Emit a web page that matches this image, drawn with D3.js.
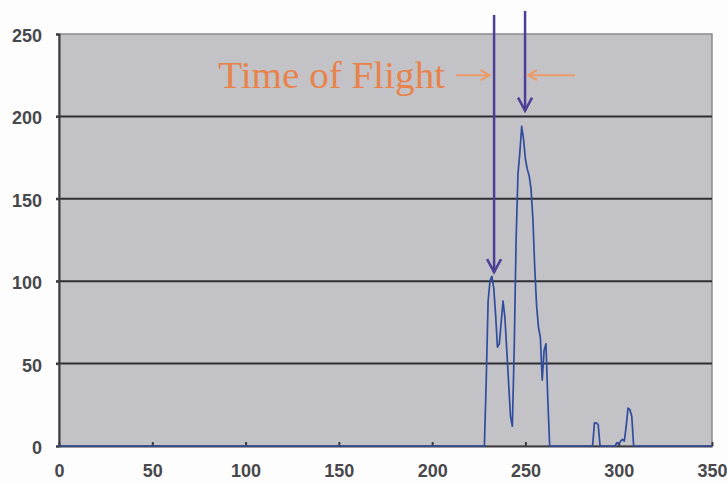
<!DOCTYPE html>
<html>
<head>
<meta charset="utf-8">
<script src="https://cdn.jsdelivr.net/npm/d3@7/dist/d3.min.js"></script>
<style>
  html, body { margin: 0; padding: 0; background: #fdfdfd; }
  svg { display: block; }
</style>
</head>
<body>
<svg id="chart" width="727" height="482"></svg>
<script>
// Time-of-flight bins and detector counts
const tofBins = [0, 228, 229, 230, 231, 232, 233, 234, 235, 236, 237, 238, 239, 240, 241, 242, 243, 244,
  245, 246, 247, 248, 249, 250, 251, 252, 253, 254, 255, 256, 257, 258, 259, 260, 261, 262, 263,
  286, 287, 288, 289, 290, 298, 299, 300, 301, 302, 303, 304, 305, 306, 307, 308, 350];
const counts = [0, 0, 40, 88, 100, 103, 96, 80, 60, 62, 75, 88, 78, 58, 38, 18, 12, 60,
  125, 165, 178, 194, 186, 174, 168, 164, 156, 138, 108, 85, 72, 66, 40, 58, 62, 28, 0,
  0, 14, 14, 13, 0, 0, 2, 1, 3, 4, 3, 12, 23, 22, 18, 0, 0];

// Axis ticks
const xTicks = [0, 50, 100, 150, 200, 250, 300, 350];
const yTicks = [0, 50, 100, 150, 200, 250];

// Annotation: arrows marking the two flight-time peaks (tof, top value, tip value)
const markerTof = [233.2, 249.8];
const markerTop = [261.5, 264];
const markerTip = [105.5, 203.5];
const annotationText = "Time of Flight";

const svg = d3.select("#chart");
const x = d3.scaleLinear().domain([0, 350]).range([59, 712]);
const y = d3.scaleLinear().domain([0, 250]).range([446, 34]);

// Plot area
svg.append("rect")
  .attr("x", x(0)).attr("y", y(250))
  .attr("width", x(350) - x(0)).attr("height", y(0) - y(250))
  .attr("fill", "#c2c2c7")
  .attr("stroke", "#8a8a90").attr("stroke-width", 1.5);

// Horizontal grid lines
svg.append("g")
  .selectAll("line")
  .data(yTicks.filter(d => d > 0 && d < 250))
  .join("line")
  .attr("x1", x(0) - 3).attr("x2", x(350))
  .attr("y1", d => y(d)).attr("y2", d => y(d))
  .attr("stroke", "#2e2e33").attr("stroke-width", 2);

// Y axis
const yAxis = d3.axisLeft(y).tickValues(yTicks).tickSize(3).tickPadding(14);
const gy = svg.append("g").attr("transform", `translate(${x(0)},0)`).call(yAxis);
gy.select(".domain").attr("stroke", "#3c3c40").attr("stroke-width", 2);
gy.selectAll(".tick line").attr("stroke", "#3c3c40").attr("stroke-width", 2);
gy.selectAll(".tick text")
  .attr("fill", "#48484c")
  .attr("font-family", "'Liberation Sans', Arial, sans-serif")
  .attr("font-weight", "bold")
  .attr("font-size", 18)
  .attr("dy", "0.42em");

// X axis with inward ticks
const xAxis = d3.axisBottom(x).tickValues(xTicks).tickSizeInner(-4).tickSizeOuter(0).tickPadding(22);
const gx = svg.append("g").attr("transform", `translate(0,${y(0)})`).call(xAxis);
gx.select(".domain").attr("stroke", "#3c3c40").attr("stroke-width", 2);
gx.selectAll(".tick line").attr("stroke", "#3c3c40").attr("stroke-width", 2);
gx.selectAll(".tick text")
  .attr("fill", "#48484c")
  .attr("font-family", "'Liberation Sans', Arial, sans-serif")
  .attr("font-weight", "bold")
  .attr("font-size", 18)
  .attr("dy", "0.5em");

// Count trace
const line = d3.line().x((d, i) => x(tofBins[i])).y(d => y(d));
svg.append("path")
  .datum(counts)
  .attr("d", line)
  .attr("fill", "none")
  .attr("stroke", "#304c9c")
  .attr("stroke-width", 1.7)
  .attr("stroke-linejoin", "round");

// Peak marker arrows
const markerColor = "#4d3f95";
markerTof.forEach((t, i) => {
  const cx = x(t), yTop = y(markerTop[i]), yTip = y(markerTip[i]);
  svg.append("line")
    .attr("x1", cx).attr("x2", cx).attr("y1", yTop).attr("y2", yTip)
    .attr("stroke", markerColor).attr("stroke-width", 2.5);
  svg.append("path")
    .attr("d", `M${cx - 7},${yTip - 13}L${cx},${yTip}L${cx + 7},${yTip - 13}`)
    .attr("fill", "none").attr("stroke", markerColor).attr("stroke-width", 2.5)
    .attr("stroke-linejoin", "miter");
});

// Label with pointers towards the markers
const labelColor = "#e9834c";
svg.append("text")
  .attr("x", x(85.3)).attr("y", y(217))
  .attr("fill", labelColor)
  .attr("font-family", "'Liberation Serif', 'Times New Roman', serif")
  .attr("font-size", 37)
  .attr("textLength", 227)
  .attr("lengthAdjust", "spacingAndGlyphs")
  .text(annotationText);

const pointerY = y(225);
const pointerColor = "#ee9a66";
// right-pointing pointer
svg.append("line")
  .attr("x1", x(212.8)).attr("x2", x(230.8)).attr("y1", pointerY).attr("y2", pointerY)
  .attr("stroke", pointerColor).attr("stroke-width", 2);
svg.append("path")
  .attr("d", `M${x(230.8) - 9},${pointerY - 5}L${x(230.8)},${pointerY}L${x(230.8) - 9},${pointerY + 5}`)
  .attr("fill", "none").attr("stroke", pointerColor).attr("stroke-width", 2);
// left-pointing pointer
svg.append("line")
  .attr("x1", x(251.4)).attr("x2", x(276.5)).attr("y1", pointerY).attr("y2", pointerY)
  .attr("stroke", pointerColor).attr("stroke-width", 2);
svg.append("path")
  .attr("d", `M${x(251.4) + 9},${pointerY - 5}L${x(251.4)},${pointerY}L${x(251.4) + 9},${pointerY + 5}`)
  .attr("fill", "none").attr("stroke", pointerColor).attr("stroke-width", 2);
</script>
</body>
</html>
